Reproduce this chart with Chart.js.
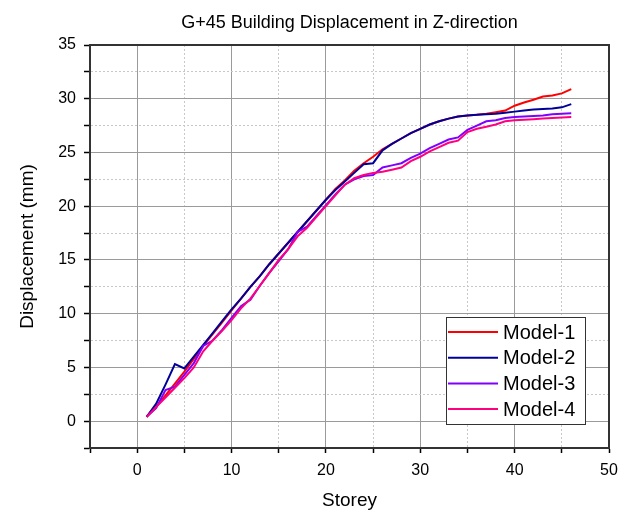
<!DOCTYPE html>
<html>
<head>
<meta charset="utf-8">
<script src="https://cdn.jsdelivr.net/npm/chart.js@4.4.1/dist/chart.umd.min.js"></script>
<style>
  html, body { margin: 0; padding: 0; background: #fff; }
  #wrap { width: 629px; height: 513px; }
</style>
</head>
<body>
<div id="wrap"><canvas id="chart" width="629" height="513"></canvas></div>
<script>
// storey numbers on the x axis
const storeys = [1, 2, 3, 4, 5, 6, 7, 8, 9, 10, 11, 12, 13, 14, 15, 16, 17, 18, 19, 20, 21, 22, 23,
    24, 25, 26, 27, 28, 29, 30, 31, 32, 33, 34, 35, 36, 37, 38, 39, 40, 41, 42, 43, 44, 45, 46];

// displacement (mm)
const model1 = [0.4, 1.3, 2.4, 3.5, 4.6, 5.8, 7.0, 8.1, 9.2, 10.3, 11.4, 12.5, 13.5, 14.6, 15.6, 16.6,
    17.6, 18.6, 19.6, 20.6, 21.6, 22.4, 23.3, 24.0, 24.6, 25.3, 25.8, 26.3, 26.8, 27.2, 27.6, 27.9,
    28.15, 28.35, 28.45, 28.5, 28.6, 28.75, 28.9, 29.35, 29.65, 29.9, 30.2, 30.3, 30.5, 30.9];
const model2 = [0.4, 1.6, 3.4, 5.3, 4.9, 6.0, 7.1, 8.2, 9.3, 10.4, 11.4, 12.5, 13.5, 14.6, 15.6, 16.6,
    17.6, 18.6, 19.6, 20.6, 21.5, 22.3, 23.1, 23.9, 24.0, 25.2, 25.8, 26.3, 26.8, 27.2, 27.6, 27.9,
    28.15, 28.35, 28.45, 28.5, 28.55, 28.6, 28.7, 28.8, 28.9, 29.0, 29.05, 29.1, 29.2, 29.5];
const model3 = [0.4, 1.2, 2.9, 3.2, 4.3, 5.4, 7.0, 7.5, 8.5, 9.6, 10.7, 11.3, 12.6, 13.8, 14.9, 16.0,
    17.6, 18.1, 19.1, 20.1, 21.1, 22.0, 22.5, 22.8, 22.9, 23.6, 23.8, 24.0, 24.5, 24.9, 25.4, 25.8,
    26.2, 26.4, 27.1, 27.5, 27.9, 28.0, 28.2, 28.3, 28.35, 28.4, 28.45, 28.55, 28.6, 28.66];
const model4 = [0.4, 1.3, 2.2, 3.1, 4.0, 5.0, 6.5, 7.5, 8.4, 9.4, 10.5, 11.4, 12.6, 13.8, 15.0, 16.0,
    17.2, 18.0, 19.0, 20.0, 21.0, 22.0, 22.6, 22.9, 23.1, 23.2, 23.4, 23.6, 24.2, 24.6, 25.1, 25.5,
    25.9, 26.1, 26.9, 27.2, 27.4, 27.6, 27.9, 28.0, 28.05, 28.1, 28.15, 28.2, 28.25, 28.3];

const seriesNames = ['Model-1', 'Model-2', 'Model-3', 'Model-4'];
const seriesColors = ['#ff0000', '#000099', '#8000ff', '#ff0080'];
const seriesValues = [model1, model2, model3, model4];
const drawOrder = [4, 3, 2, 1];

const FONT = 'Arial, "Liberation Sans", sans-serif';

function toPoints(values) {
    return storeys.map((s, i) => ({ x: s, y: values[i] }));
}

const datasets = seriesNames.map((name, i) => ({
    label: name,
    data: toPoints(seriesValues[i]),
    borderColor: seriesColors[i],
    backgroundColor: seriesColors[i],
    borderWidth: 2,
    pointRadius: 0,
    tension: 0,
    order: drawOrder[i]
}));

// grid: solid on major ticks, dotted on minor ones
function gridColor(major) {
    return (ctx) => {
        if (!ctx.tick) return '#000';
        return ctx.tick.value % major === 0 ? '#9a9a9a' : '#c8c8c8';
    };
}
function gridDash(major) {
    return (ctx) => {
        if (!ctx.tick) return [];
        return ctx.tick.value % major === 0 ? [] : [2, 2];
    };
}

// frame round the plot and the boxed legend
const framePlugin = {
    id: 'frame',
    afterDraw(chart) {
        const { ctx, chartArea: a } = chart;
        ctx.save();
        ctx.strokeStyle = '#333';
        ctx.lineWidth = 2;
        ctx.strokeRect(a.left, a.top, a.right - a.left, a.bottom - a.top);

        const w = 139, h = 107;
        const bx = a.right - 24 - w, by = a.bottom - 24 - h;
        ctx.fillStyle = '#fff';
        ctx.fillRect(bx, by, w, h);
        ctx.strokeStyle = '#333';
        ctx.lineWidth = 1;
        ctx.strokeRect(bx + 0.5, by + 0.5, w, h);
        ctx.font = '20px ' + FONT;
        ctx.textBaseline = 'middle';
        chart.data.datasets.forEach((ds, i) => {
            const y = by + 15 + i * 25.7;
            ctx.strokeStyle = ds.borderColor;
            ctx.lineWidth = 2;
            ctx.beginPath();
            ctx.moveTo(bx + 2, y);
            ctx.lineTo(bx + 52, y);
            ctx.stroke();
            ctx.fillStyle = '#000';
            ctx.fillText(ds.label, bx + 57, y + 1);
        });
        ctx.restore();
    }
};

new Chart(document.getElementById('chart'), {
    type: 'line',
    data: { datasets },
    options: {
        responsive: false,
        animation: false,
        devicePixelRatio: 1,
        layout: { padding: { left: 0, right: 20, top: 0, bottom: 0 } },
        plugins: {
            legend: { display: false },
            tooltip: { enabled: false },
            title: {
                display: true,
                fullSize: false,
                text: 'G+45 Building Displacement in Z-direction',
                color: '#000',
                font: { family: FONT, size: 18, weight: 'normal' },
                padding: { top: 12, bottom: 11.4 }
            }
        },
        scales: {
            x: {
                type: 'linear',
                min: -5,
                max: 50,
                afterFit(scale) { scale.height = 65; },
                ticks: {
                    stepSize: 5,
                    autoSkip: false,
                    maxRotation: 0,
                    color: '#000',
                    padding: 8,
                    font: { family: FONT, size: 16 },
                    callback: (v) => (v % 10 === 0 ? String(v) : '')
                },
                grid: {
                    color: gridColor(10),
                    lineWidth: 1,
                    tickColor: '#000',
                    tickLength: 5,
                    tickWidth: 1.5
                },
                border: { color: '#000', width: 2, dash: gridDash(10) },
                title: {
                    display: true,
                    text: 'Storey',
                    color: '#000',
                    font: { family: FONT, size: 19 },
                    padding: { top: 0, bottom: 1 }
                }
            },
            y: {
                type: 'linear',
                min: -2.5,
                max: 35,
                afterFit(scale) { scale.width = 90; },
                ticks: {
                    stepSize: 2.5,
                    autoSkip: false,
                    color: '#000',
                    padding: 8,
                    font: { family: FONT, size: 16 },
                    callback: (v) => (v % 5 === 0 ? String(v) : '')
                },
                grid: {
                    color: gridColor(5),
                    lineWidth: 1,
                    tickColor: '#000',
                    tickLength: 6,
                    tickWidth: 1.5
                },
                border: { color: '#000', width: 2, dash: gridDash(5) },
                title: {
                    display: true,
                    text: 'Displacement (mm)',
                    color: '#000',
                    font: { family: FONT, size: 19 },
                    padding: { top: 16, bottom: 0 }
                }
            }
        }
    },
    plugins: [framePlugin]
});
</script>
</body>
</html>
